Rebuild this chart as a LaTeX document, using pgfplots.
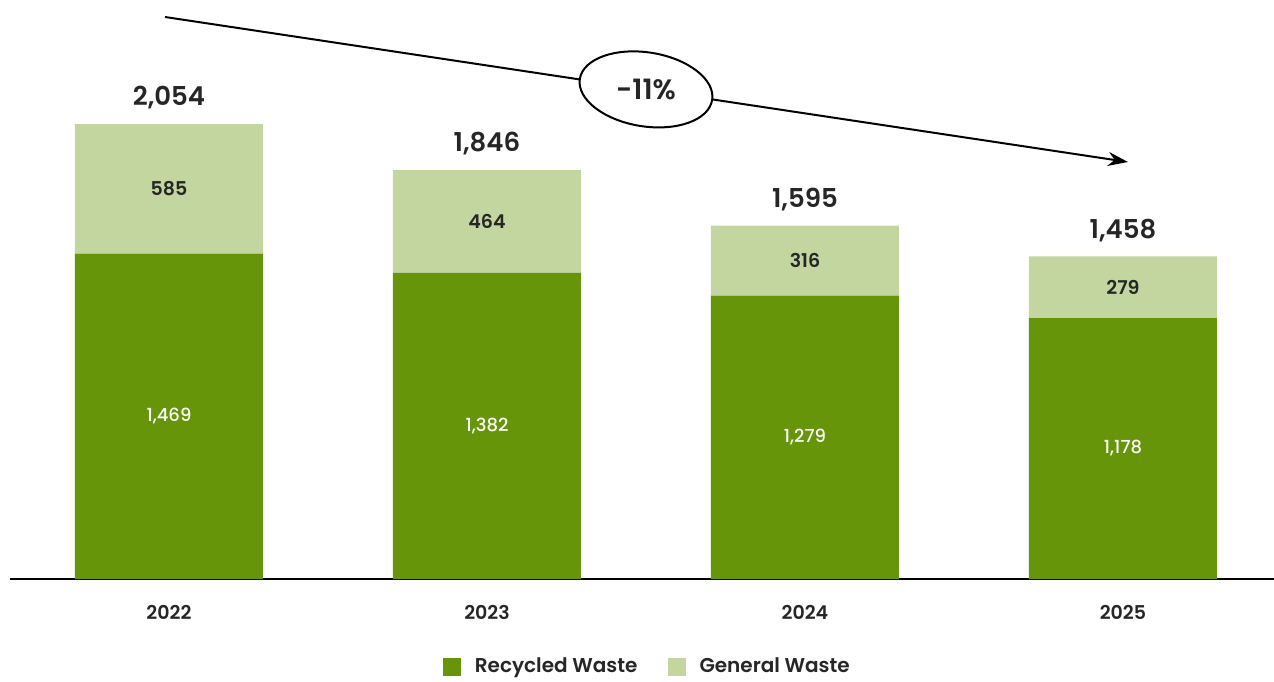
\documentclass[border=0pt]{standalone}
\usepackage{pgfplots}
\pgfplotsset{compat=1.18}
\usepackage{pgfplotstable}
\usepackage{fontspec}
\setmainfont{Poppins}[BoldFont={Poppins SemiBold}]
\newfontfamily\medfont{Poppins Medium}
\usetikzlibrary{arrows.meta}

\definecolor{recyc}{HTML}{669509}
\definecolor{gen}{HTML}{C4D6A0}
\definecolor{txt}{HTML}{262626}

\pgfplotstableread{
x rec  gen tot
0 1469 585 2054
1 1382 464 1846
2 1279 316 1595
3 1178 279 1458
}\waste

\begin{document}
\begin{tikzpicture}
\begin{axis}[
  at={(0,0)}, anchor=south west,
  scale only axis,
  width=632pt, height=289.5pt,
  ybar stacked,
  bar width=94pt,
  xmin=-0.5, xmax=3.475,
  ymin=0, ymax=2614,
  enlargelimits=false,
  axis y line=none,
  axis x line*=bottom,
  x axis line style={line width=1pt,-},
  xtick={0,1,2,3},
  xticklabels={2022,2023,2024,2025},
  major tick length=0pt,
  xticklabel style={anchor=center, yshift=-16.5pt, font=\fontsize{9.5}{11}\selectfont\bfseries, text=txt},
  /pgf/number format/.cd, 1000 sep={,}, assume math mode=true,
  /pgfplots/.cd,
  point meta=explicit,
  legend columns=2,
  legend style={at={(axis description cs:0.505,-0.152)}, anchor=center, draw=none,
    font=\fontsize{10}{12}\selectfont\bfseries, text=txt,
    /tikz/every odd column/.append style={column sep=5pt},
    /tikz/every even column/.append style={column sep=13pt}},
  legend image code/.code={\fill[#1,draw=none] (0pt,-4.5pt) rectangle (9pt,4.5pt);},
]
\addplot[fill=recyc, draw=none,
  nodes near coords,
  every node near coord/.append style={anchor=center, text=white,
    font=\fontsize{9}{11}\selectfont\medfont}]
  table[x=x, y=rec, meta=rec] {\waste};
\addlegendentry{Recycled Waste}
\addplot[fill=gen, draw=none,
  nodes near coords,
  every node near coord/.append style={anchor=center, text=txt,
    font=\fontsize{9.5}{11}\selectfont\bfseries}]
  table[x=x, y=gen, meta=gen] {\waste};
\addlegendentry{General Waste}
\addplot[fill=none, draw=none, forget plot,
  nodes near coords,
  every node near coord/.append style={anchor=center, text=txt, yshift=13pt,
    font=\fontsize{13}{15}\selectfont\bfseries}]
  table[x=x, y expr=1, meta=tot] {\waste};
\end{axis}
% trend arrow
\draw[line width=1pt, -{Stealth[length=10pt,width=7pt]}] (77.5pt,281pt) -- (559pt,208.5pt);
\draw[line width=1pt, fill=white, rotate around={-9:(318pt,244.8pt)}]
  (318pt,244.8pt) ellipse [x radius=33.5pt, y radius=18.5pt];
\node[text=txt, font=\fontsize{14}{16}\selectfont\bfseries] at (318pt,244.8pt) {-11\%};
\pgfresetboundingbox
\path (-5pt,-51pt) rectangle (632pt,289.5pt);
\end{tikzpicture}
\end{document}
